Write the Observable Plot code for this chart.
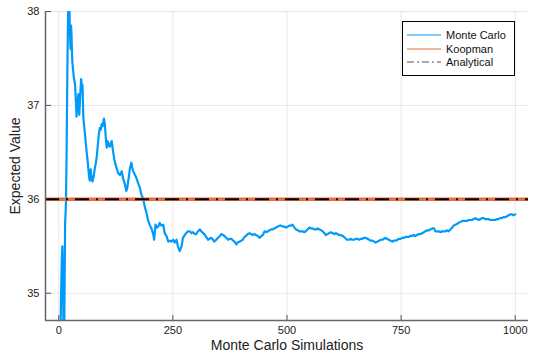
<!DOCTYPE html>
<html><head><meta charset="utf-8">
<script src="https://cdn.jsdelivr.net/npm/d3@7"></script>
<script src="https://cdn.jsdelivr.net/npm/@observablehq/plot@0.6"></script>
<style>
body{margin:0;background:#fff;font-family:"Liberation Sans",Arial,sans-serif}
#wrap{position:relative;width:540px;height:360px}
.legend{position:absolute;left:402px;top:21px;width:113px;height:55px;border:1px solid #000;box-sizing:border-box;background:#fff;font-size:11px;color:#111}
.row{position:absolute;left:4px;height:14px;display:flex;align-items:center}
.row svg{margin-right:5px}
</style></head>
<body><div id="wrap"></div>
<script>
const seriesNames = ["Monte Carlo", "Koopman", "Analytical"];
const mcN = [1,2,3,4,5,6,7,8,9,10,11,12,13,14,15,16,17,18,19,20,21,22,23,24,25,26,27,28,29,30,31,33,35,36,38,39,41,43,45,47,49,51,52,54,57,60,63,65,67,68,70,72,74,77,79,81,83,86,88,90,92,94,96,99,101,103,105,107,110,112,114,116,119,122,125,127,130,134,138,141,145,148,150,153,156,159,161,163,166,170,174,178,181,185,188,192,196,200,203,207,209,212,215,218,221,225,229,232,236,240,244,247,251,254,258,261,265,269,272,276,279,283,287,291,294,298,301,305,309,314,319,323,327,330,334,338,341,345,349,353,356,360,363,367,371,374,378,382,385,389,392,396,400,403,407,410,414,418,421,425,429,432,436,440,444,447,451,455,458,462,465,469,472,476,480,484,487,491,494,498,502,505,509,512,516,520,524,527,531,534,538,541,545,549,552,556,560,563,567,571,575,578,582,585,589,592,596,600,604,607,611,614,618,622,625,629,632,636,640,643,647,651,654,658,662,665,669,672,676,680,683,687,691,694,698,702,705,709,712,716,719,723,727,731,734,738,742,745,749,752,756,760,763,767,770,774,778,781,785,789,792,796,800,803,807,811,814,818,822,825,829,833,836,840,843,847,851,854,858,862,865,869,873,876,880,884,887,891,895,898,902,905,909,913,916,920,924,927,931,934,938,941,945,949,952,956,960,963,967,971,974,978,982,985,989,993,996,1000];
const mcV = [32.8,33.6,34.2,34.6,34.95,35.2,35.4,35.5,35.2,34.8,34.4,34.5,35.2,35.75,35.85,36.0,36.4,36.9,37.4,37.8,38.15,38.3,38.1,37.9,37.7,37.6,37.85,37.75,37.55,37.45,37.4,37.3,37.25,37.2,37.0,36.88,37.02,37.12,36.9,37.1,37.28,37.2,37.22,36.86,36.72,36.56,36.42,36.32,36.22,36.2,36.32,36.22,36.19,36.26,36.33,36.38,36.44,36.6,36.7,36.76,36.74,36.8,36.78,36.86,36.8,36.66,36.55,36.62,36.57,36.56,36.6,36.62,36.51,36.42,36.36,36.33,36.28,36.26,36.3,36.22,36.16,36.09,36.12,36.22,36.33,36.39,36.34,36.3,36.27,36.23,36.17,36.12,36.05,36.01,35.93,35.86,35.77,35.72,35.69,35.63,35.57,35.73,35.7,35.71,35.75,35.72,35.73,35.64,35.61,35.55,35.56,35.55,35.57,35.54,35.57,35.5,35.45,35.5,35.59,35.62,35.64,35.66,35.66,35.64,35.65,35.63,35.63,35.66,35.68,35.65,35.63,35.6,35.57,35.58,35.59,35.57,35.55,35.57,35.59,35.61,35.63,35.62,35.61,35.59,35.57,35.58,35.58,35.56,35.55,35.52,35.54,35.55,35.56,35.57,35.6,35.61,35.63,35.64,35.63,35.62,35.63,35.62,35.61,35.59,35.61,35.62,35.66,35.65,35.66,35.67,35.68,35.68,35.69,35.7,35.71,35.72,35.72,35.71,35.71,35.7,35.71,35.72,35.72,35.73,35.7,35.68,35.67,35.66,35.66,35.66,35.65,35.66,35.68,35.7,35.69,35.69,35.68,35.68,35.69,35.68,35.67,35.66,35.64,35.62,35.63,35.64,35.65,35.64,35.63,35.64,35.63,35.62,35.62,35.61,35.6,35.58,35.57,35.57,35.58,35.57,35.57,35.58,35.58,35.57,35.58,35.58,35.59,35.59,35.58,35.57,35.56,35.56,35.55,35.54,35.55,35.56,35.57,35.57,35.58,35.59,35.58,35.57,35.56,35.55,35.56,35.56,35.57,35.58,35.58,35.59,35.59,35.6,35.6,35.6,35.61,35.61,35.62,35.61,35.62,35.63,35.63,35.64,35.65,35.66,35.67,35.67,35.68,35.69,35.69,35.66,35.66,35.66,35.65,35.66,35.66,35.66,35.67,35.66,35.68,35.7,35.72,35.73,35.74,35.75,35.76,35.77,35.77,35.77,35.77,35.78,35.78,35.78,35.79,35.8,35.79,35.78,35.79,35.8,35.8,35.79,35.79,35.79,35.78,35.78,35.78,35.78,35.79,35.79,35.8,35.8,35.81,35.81,35.82,35.83,35.84,35.84,35.83,35.84];
const koopmanValue = [36.0];
const analyticalValue = [36.0];
const xTicks = [0, 250, 500, 750, 1000];
const yTicks = [35, 36, 37, 38];
const xDomain = [-29, 1029];
const yDomain = [34.71, 38.0];
const colors = {mc: "#009AFA", koop: "#E26F46", an: "#000000"};

const mc = mcN.map((n, i) => ({n, v: mcV[i]}));
const fmt = d3.format("d");

const chart = Plot.plot({
  width: 540, height: 360,
  marginLeft: 45, marginRight: 12, marginTop: 11, marginBottom: 40,
  style: {fontFamily: '"Liberation Sans", Arial, sans-serif', background: "#fff", color: "#222"},
  x: {domain: xDomain},
  y: {domain: yDomain},
  marks: [
    Plot.gridX(xTicks, {stroke: "#000", strokeOpacity: 0.09}),
    Plot.gridY(yTicks, {stroke: "#000", strokeOpacity: 0.09}),
    Plot.axisX({ticks: xTicks, tickSize: 0, tickPadding: 6, fontSize: 11, label: null, tickFormat: fmt}),
    Plot.axisY({ticks: yTicks, tickSize: 0, tickPadding: 6, fontSize: 11, label: null, tickFormat: fmt}),
    Plot.axisX({ticks: [], label: "Monte Carlo Simulations", labelAnchor: "center", labelOffset: 29, fontSize: 14, labelArrow: "none"}),
    Plot.axisY({ticks: [], label: "Expected Value", labelAnchor: "center", labelOffset: 35, fontSize: 14, labelArrow: "none"}),
    Plot.tickX(xTicks, {x: d => d, insetTop: 304, stroke: "#555", strokeWidth: 1}),
    Plot.tickY(yTicks, {y: d => d, insetRight: 477, stroke: "#555", strokeWidth: 1}),
    Plot.line(mc, {x: "n", y: "v", stroke: colors.mc, strokeWidth: 2.2, clip: true}),
    Plot.ruleY(koopmanValue, {stroke: colors.koop, strokeWidth: 3.5}),
    Plot.ruleY(analyticalValue, {stroke: colors.an, strokeWidth: 2, strokeDasharray: "14,7,2,7"}),
    Plot.ruleX([xDomain[0]], {stroke: "#666", strokeWidth: 1.5}),
    Plot.ruleY([yDomain[0]], {stroke: "#666", strokeWidth: 1.5})
  ]
});
const wrap = document.getElementById("wrap");
wrap.appendChild(chart);

const leg = document.createElement("div");
leg.className = "legend";
const styles = [
  {stroke: colors.mc, dash: null},
  {stroke: colors.koop, dash: null},
  {stroke: "#555", dash: "7,3,2,3"}
];
seriesNames.forEach((name, i) => {
  const row = document.createElement("div");
  row.className = "row";
  row.style.top = (6 + i * 13.5) + "px";
  const s = styles[i];
  row.innerHTML = `<svg width="34" height="6"><line x1="0" x2="34" y1="3" y2="3" stroke="${s.stroke}" stroke-width="1.2" ${s.dash ? `stroke-dasharray="${s.dash}"` : ""}/></svg><span>${name}</span>`;
  leg.appendChild(row);
});
wrap.appendChild(leg);
</script></body></html>
